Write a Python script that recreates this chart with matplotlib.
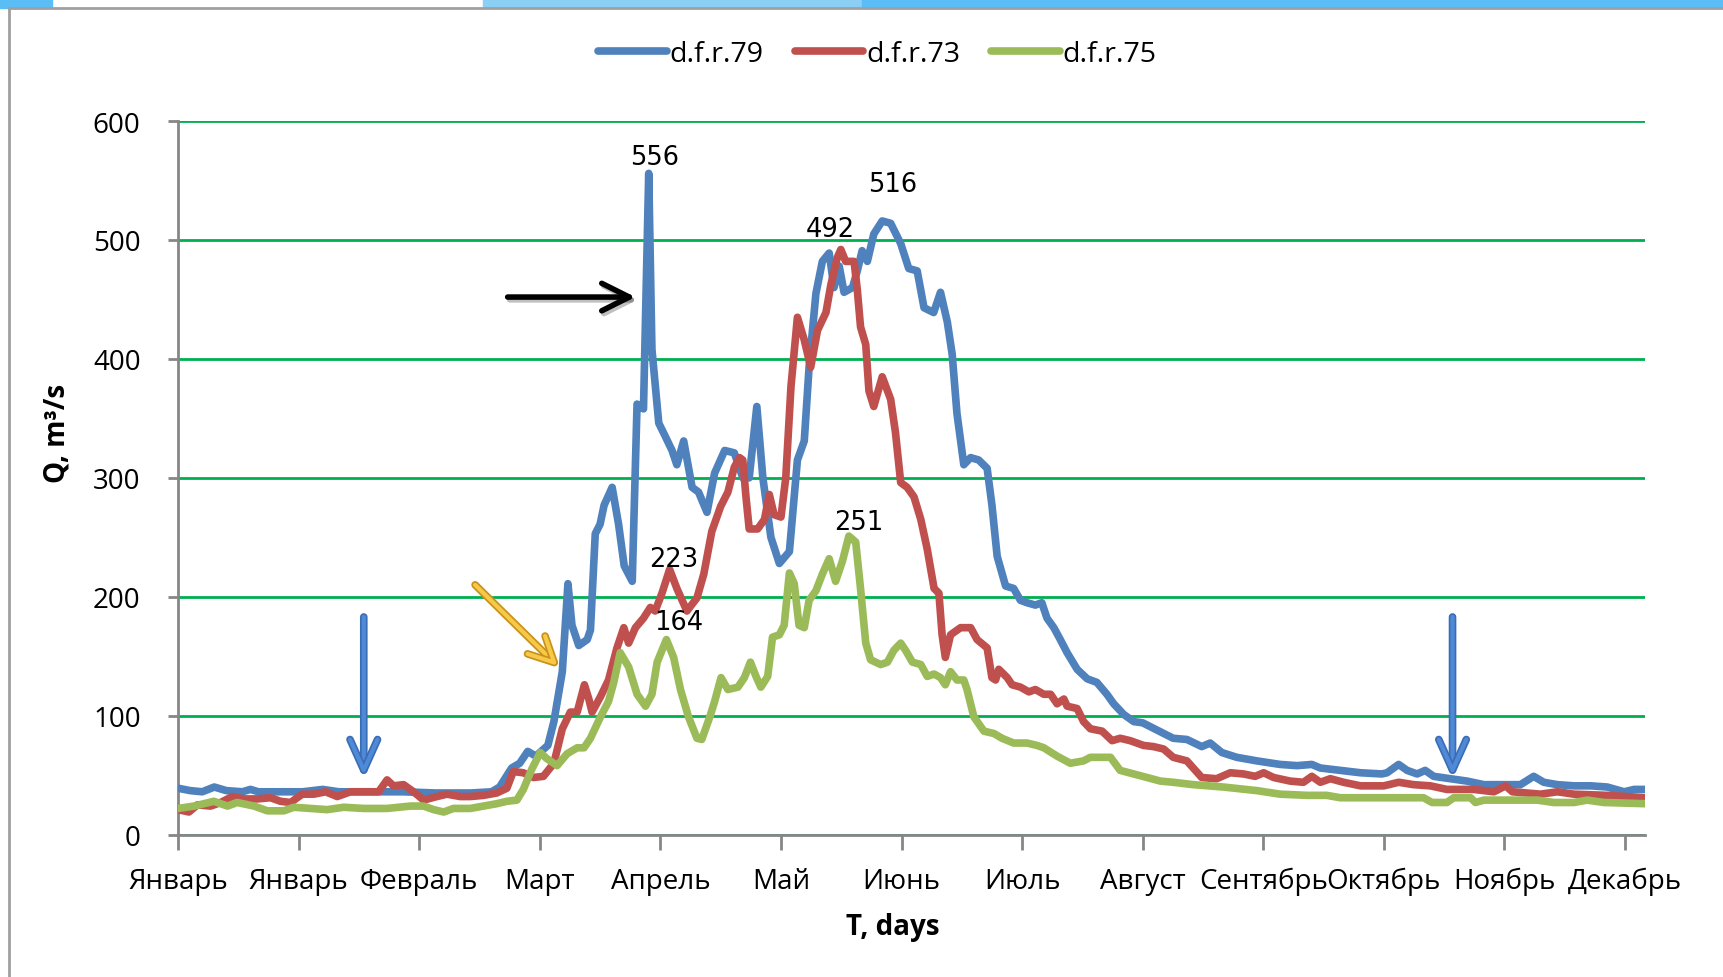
import matplotlib.pyplot as plt
import matplotlib.patheffects as pe
from matplotlib.patches import Rectangle

# day of year / discharge
blue_days = [0, 3, 6, 9, 12, 16, 18, 20, 23, 31, 36, 40, 45, 50, 56, 64, 73, 78, 80, 83,
             85, 87, 89, 92, 93.5, 95.6, 97, 98, 99.7, 101.8, 102.6, 103.8, 105, 106, 108, 109.6,
             111, 113, 114.2, 115.8, 117.1, 117.9, 119.6, 121.2, 122.9, 124.1, 125.8, 127.9, 129.5, 131.6,
             133.5, 136, 138.4, 140.5, 142.1, 144, 145.5, 147.5, 149.6, 152.1, 154.1, 155.8, 157, 158.7,
             160.3, 162, 163.2, 164.5, 165.7, 167.8, 169, 170.2, 171.5, 173.1, 175.2, 177.3, 179.8, 181.8,
             183.9, 185.6, 188, 189.7, 191.4, 192.6, 193.8, 195.5, 197.2, 199.2, 201.3, 202.5, 203.8, 205.9,
             207.9, 209.6, 211.2, 213.3, 214.9, 216.2, 217.9, 219.5, 221.2, 223.7, 226.2, 228.6, 231.1, 232.8,
             235.3, 237.8, 240, 243.5, 247.6, 251, 254.7, 256.8, 259.7, 263.4, 268.4, 274.2, 278.4, 282.1,
             284.2, 289.2, 294.2, 299.5, 300.8, 303.7, 305.8, 308.3, 310.3, 312.4, 316.6, 320.7, 324.9, 329.9,
             334, 337.3, 339.8, 343.2, 347.3, 351.5, 355.6, 359.8, 362.3, 365]
blue_q = [39, 37, 36, 40, 37, 36, 38, 36, 36, 36, 38, 36, 36, 36, 36, 35, 35, 36, 40, 56,
          60, 70, 66, 75, 95, 137, 211, 176, 159, 164, 172, 253, 261, 277, 292, 261,
          226, 213, 362, 358, 556, 408, 346, 335, 323, 311, 331, 292, 288, 271,
          304, 323, 321, 300, 300, 360, 300, 250, 228, 238, 315, 331, 393, 455,
          482, 489, 460, 478, 456, 460, 474, 491, 482, 505, 516, 514, 497, 476,
          474, 443, 439, 456, 431, 404, 354, 311, 317, 315, 308, 277, 234, 209,
          207, 197, 195, 193, 195, 182, 174, 164, 153, 139, 131, 128, 118, 110,
          101, 95, 94, 88, 81, 80, 74, 77, 69, 65, 62, 59, 58, 59,
          56, 54, 52, 51, 52, 59, 54, 51, 54, 49, 47, 45, 42, 42,
          42, 49, 44, 42, 41, 41, 40, 36, 38, 38]

red_days = [0, 2.7, 4.8, 8.1, 10.6, 13.5, 16.4, 19.7, 23, 25.5, 28, 30.9, 33.8, 36.7, 39.6, 42.9,
            46.2, 49.9, 52, 53.6, 56.1, 58.6, 61.1, 64.4, 66.9, 70.2, 72.7, 76, 79.3, 81.8, 83.4, 85.9,
            88.4, 90.9, 93.5, 95.6, 97.6, 99.3, 101.1, 102.2, 103, 105.1, 107.1, 109.2, 110.9, 112.1, 113.8, 115.8,
            117.5, 118.7, 120.4, 122.3, 124.1, 126.6, 129.1, 130.8, 132.8, 135, 136.8, 138.4, 139.7, 140.5, 141.3, 142.1,
            144.2, 145.9, 147.1, 148.3, 150, 151.2, 152.5, 154.1, 155.8, 157.4, 159.1, 161.2, 162.4, 164, 164.9, 166.1,
            168.2, 169, 169.8, 171.1, 171.9, 173.1, 175.2, 177.3, 178.5, 179.8, 181.4, 183.1, 184.8, 186.4, 188.1, 189.3,
            190.1, 190.9, 192.2, 194.7, 197.2, 198.8, 201.3, 202.5, 203.4, 204.2, 206.3, 207.5, 209.6, 211.7, 213.3, 215.4,
            217.1, 218.7, 220.4, 221.2, 223.7, 225.3, 227, 229.9, 232.4, 234.4, 236.9, 240.2, 242.7, 245.2, 247.6, 251,
            254.7, 258.4, 261.8, 265.1, 268, 270.1, 272.6, 276.7, 280, 282.1, 284.2, 286.7, 290, 294.2, 300, 303.7,
            307.4, 311.6, 315.7, 322.4, 327.4, 330.3, 332, 339, 343.2, 347.3, 355.6, 365]
red_q = [21, 19, 25, 24, 27, 32, 30, 30, 31, 28, 27, 34, 34, 36, 32, 36,
         36, 36, 46, 41, 42, 36, 29, 32, 34, 32, 32, 33, 35, 39, 53, 52,
         48, 49, 60, 89, 103, 103, 126, 114, 103, 116, 130, 157, 174, 161, 174, 182,
         191, 188, 203, 223, 207, 188, 199, 219, 255, 276, 288, 309, 317, 315, 284, 257,
         257, 265, 286, 269, 267, 300, 377, 435, 416, 393, 424, 439, 462, 485, 492, 482,
         482, 458, 427, 412, 373, 360, 385, 366, 338, 296, 292, 284, 265, 240, 207, 203,
         168, 149, 168, 174, 174, 164, 157, 132, 130, 139, 132, 126, 124, 120, 122, 118,
         118, 110, 114, 108, 106, 95, 89, 87, 79, 81, 79, 75, 74, 72, 65, 62,
         48, 47, 52, 51, 49, 52, 48, 45, 44, 49, 44, 47, 44, 41, 41, 44,
         42, 41, 38, 38, 36, 41, 36, 34, 36, 34, 33, 31]

green_days = [0, 4, 8.9, 12.3, 14.7, 18.9, 22.2, 26.3, 28.8, 32.9, 37.1, 41.2, 46.2, 52, 57.8, 61.1,
              63.6, 66.1, 68.5, 72.7, 76, 79.3, 81.8, 84.3, 85.9, 88, 90.1, 91.7, 94.3, 96.8, 99.3, 101,
              102.6, 105.1, 107.1, 108.4, 110, 112.1, 114.2, 116.3, 117.9, 119.2, 121.5, 123.3, 125, 127, 129.1, 130.3,
              132.4, 133.5, 135.1, 136.8, 139.3, 140.9, 142.4, 143.8, 145, 146.7, 147.9, 149.6, 150.8, 152.1, 153.3, 154.5,
              155.8, 157, 158.7, 160.3, 162, 163.6, 165.3, 166.9, 168.6, 169.8, 171.1, 172.3, 174.8, 176.5, 178.1, 179.8,
              181, 182.7, 184.8, 186.4, 188.1, 189.7, 190.9, 192.2, 193.8, 195.5, 196.3, 198, 200.5, 203, 205, 207.9,
              211.2, 213.7, 215.4, 218.7, 222, 225.3, 227, 232, 234.4, 237.8, 241.1, 244.4, 247.6, 252.6, 260.1, 268.4,
              274.2, 280.9, 285.8, 289.2, 297.5, 309.9, 312, 315.7, 317.4, 321.6, 322.8, 324.9, 330.7, 338.2, 342.3, 347.3,
              350.6, 354.8, 365]
green_q = [22, 24, 28, 24, 27, 24, 20, 20, 23, 22, 21, 23, 22, 22, 24, 24,
           21, 19, 22, 22, 24, 26, 28, 29, 38, 55, 69, 64, 58, 68, 73, 73,
           81, 99, 112, 128, 153, 141, 118, 108, 118, 145, 164, 149, 122, 99, 81, 80,
           100, 112, 132, 122, 124, 132, 145, 133, 124, 133, 166, 168, 176, 220, 211, 176,
           174, 197, 205, 219, 232, 213, 230, 251, 246, 207, 161, 147, 143, 145, 155, 161,
           155, 145, 143, 133, 135, 132, 126, 137, 130, 130, 122, 99, 87, 85, 81, 77,
           77, 75, 73, 66, 60, 62, 65, 65, 54, 51, 48, 45, 44, 42, 40, 37,
           34, 33, 33, 31, 31, 31, 27, 27, 31, 31, 27, 29, 29, 29, 27, 27,
           29, 27, 26]

series_names = ['d.f.r.79', 'd.f.r.73', 'd.f.r.75']
colors = ['#4F81BD', '#C0504D', '#9BBB59']

month_labels = ['Январь', 'Январь', 'Февраль', 'Март', 'Апрель', 'Май', 'Июнь',
                'Июль', 'Август', 'Сентябрь', 'Октябрь', 'Ноябрь', 'Декабрь']
tick_days = list(range(0, 361, 30))
y_ticks = [0, 100, 200, 300, 400, 500, 600]

# peaks to label: (series index, search window, text offset in days / Q)
peak_labels = [(0, (110, 125), (1.4, 3)), (0, (170, 180), (2.5, 20)),
               (1, (160, 170), (-2.6, 6)), (1, (120, 125), (1.1, -2)),
               (2, (118, 125), (3.0, 4)), (2, (160, 170), (2.5, 1))]

plt.rcParams['font.family'] = ['Open Sans', 'DejaVu Sans']


def main():
    fig = plt.figure(figsize=(17.24, 9.78), dpi=100)
    ax = fig.add_axes([0.1033, 0.1456, 0.8509, 0.7296])

    # slide decoration: blue band on top and grey frame
    fig.patches.append(Rectangle((0.0, 0.9905), 0.03, 0.0095, transform=fig.transFigure,
                                 color='#5BBDF5', zorder=0))
    fig.patches.append(Rectangle((0.28, 0.9905), 0.22, 0.0095, transform=fig.transFigure,
                                 color='#8CCFF5', zorder=0))
    fig.patches.append(Rectangle((0.5, 0.9905), 0.5, 0.0095, transform=fig.transFigure,
                                 color='#5BBDF5', zorder=0))
    fig.add_artist(plt.Line2D([0.0052, 0.0052], [0, 0.9905], transform=fig.transFigure,
                              color='#A0A0A0', lw=2))
    fig.add_artist(plt.Line2D([0.0052, 1], [0.9905, 0.9905], transform=fig.transFigure,
                              color='#A0A0A0', lw=2))

    data = [(blue_days, blue_q), (red_days, red_q), (green_days, green_q)]
    for (d, q), name, c in zip(data, series_names, colors):
        ax.plot(d, q, color=c, lw=5.5, label=name, solid_joinstyle='round',
                solid_capstyle='round', zorder=3)

    ax.set_xlim(0, 365)
    ax.set_ylim(0, 600)
    ax.set_xticks(tick_days)
    ax.set_xticklabels(month_labels, fontsize=20)
    ax.set_yticks(y_ticks)
    ax.set_yticklabels([str(v) for v in y_ticks], fontsize=20)
    ax.yaxis.grid(True, color='#00B050', lw=2)
    ax.set_axisbelow(True)
    for s in ['top', 'right']:
        ax.spines[s].set_visible(False)
    for s in ['left', 'bottom']:
        ax.spines[s].set_color('#868686')
        ax.spines[s].set_linewidth(2)
        ax.spines[s].set_zorder(2.5)
    ax.tick_params(axis='y', length=7, width=2, color='#868686', pad=20)
    ax.tick_params(axis='x', length=11, width=2, color='#868686', pad=12)

    ax.set_xlabel('T, days', fontsize=20, fontweight='bold')
    ax.xaxis.set_label_coords(0.487, -0.108)
    ax.set_ylabel('Q, m³/s', fontsize=20, fontweight='bold')
    ax.yaxis.set_label_coords(-0.073, 0.563)

    # peak values
    for idx, (lo, hi), (dx, dy) in peak_labels:
        d, q = data[idx]
        pts = [(x, y) for x, y in zip(d, q) if lo <= x <= hi]
        px, py = max(pts, key=lambda p: p[1])
        ax.text(px + dx, py + dy, str(py), ha='center', va='bottom', fontsize=18.5,
                family='DejaVu Sans', zorder=5)

    # arrows drawn on the slide
    shadow = [pe.SimpleLineShadow(offset=(1.5, -2), alpha=0.25), pe.Normal()]
    ax.annotate('', xy=(113.8, 452), xytext=(82, 452),
                arrowprops=dict(arrowstyle='->,head_length=0.9,head_width=0.45', color='black',
                                lw=4, shrinkA=0, shrinkB=0, mutation_scale=22,
                                path_effects=shadow), zorder=6)
    gold = [pe.Stroke(linewidth=5.5, foreground='#C8921A'), pe.Normal()]
    ax.annotate('', xy=(94.4, 142), xytext=(73.9, 210),
                arrowprops=dict(arrowstyle='->,head_length=0.9,head_width=0.45', color='#F8C848',
                                lw=3, shrinkA=0, shrinkB=0, mutation_scale=20,
                                path_effects=gold), zorder=6)
    blue = [pe.Stroke(linewidth=5.5, foreground='#3B6DB5'), pe.Normal()]
    for xd in [46.2, 317.1]:
        ax.annotate('', xy=(xd, 50), xytext=(xd, 183),
                    arrowprops=dict(arrowstyle='->,head_length=1.0,head_width=0.45', color='#4F8AD8',
                                    lw=3, shrinkA=0, shrinkB=0, mutation_scale=22,
                                    path_effects=blue), zorder=6)

    fig.legend(loc='center', bbox_to_anchor=(0.509, 0.944), ncol=3, frameon=False,
               fontsize=20.5, handlelength=2.4, handletextpad=0.1, columnspacing=1.1)

    fig.savefig('out.png', dpi=100)


if __name__ == '__main__':
    main()
